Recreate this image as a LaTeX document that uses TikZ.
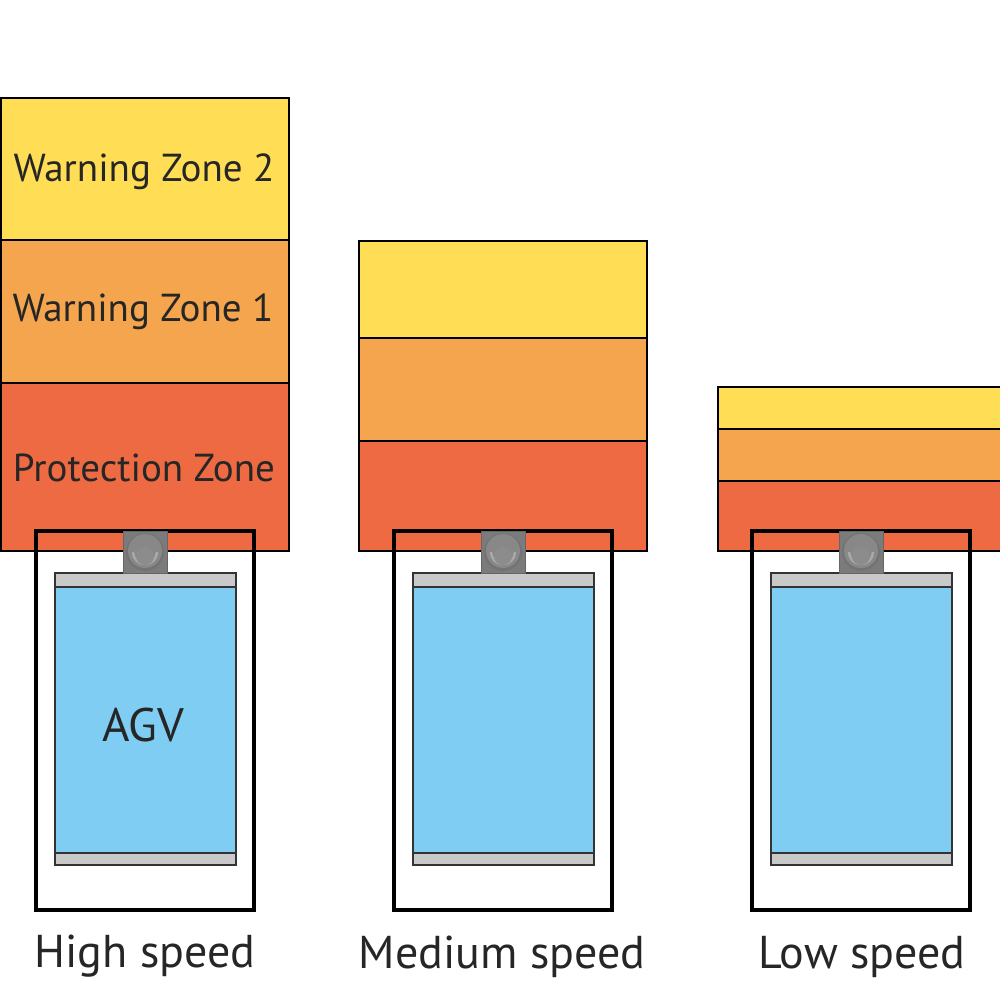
\documentclass[tikz,border=0pt]{standalone}
\usepackage{fontspec}
\setmainfont{PT Sans}
\definecolor{zyellow}{HTML}{FFDD55}
\definecolor{zorange}{HTML}{F5A54E}
\definecolor{zred}{HTML}{EE6A43}
\definecolor{agvblue}{HTML}{7FCDF3}
\definecolor{stripgray}{HTML}{C9C9C9}
\definecolor{sensgray}{HTML}{7B7B7B}
\definecolor{sensring}{HTML}{A9A9A9}
\begin{document}
\begin{tikzpicture}[x=1pt,y=-1pt,
  zoneband/.style={draw=black,line width=1.8pt},
  frame/.style={draw=black,line width=3.2pt},
  bodyline/.style={draw=black!80,line width=1.5pt},
  zonelabel/.style={font=\fontsize{39}{44}\selectfont,text=black!85,inner sep=0pt},
  speedlabel/.style={font=\fontsize{46}{52}\selectfont,text=black!85,inner sep=0pt},
  agvlabel/.style={font=\fontsize{47}{52}\selectfont,text=black!85,inner sep=0pt}]
\useasboundingbox (0,0) rectangle (1000,1000);
\clip (0,0) rectangle (1000,1000);
\fill[white] (0,0) rectangle (1000,1000);

% AGV unit macro: #1 = x offset, #2 = name suffix
\newcommand\agvunit[2]{%
  \begin{scope}[xshift=#1pt]
    \draw[frame] (36,531) rectangle (254,910);
    \draw[bodyline,fill=stripgray] (55,573) rectangle (236,865);
    \fill[agvblue] (55,587) rectangle (236,853);
    \draw[bodyline] (55,587) -- (236,587);
    \draw[bodyline] (55,853) -- (236,853);
    \draw[bodyline] (55,573) rectangle (236,865);
    \fill[sensgray] (123,531) rectangle (167,573);
    \draw[black!60,line width=0.8pt] (123,531) rectangle (167,573);
    \fill[black!55] (145,552) circle (19);
    \fill[sensgray!90] (145,551) circle (17);
    \draw[sensring,line width=2.5pt] (133,552) arc[start angle=180,end angle=0,radius=12];
    \fill[black!45] (145,556) circle (9);
    \coordinate (agv#2) at (145,720);
  \end{scope}}

% High speed zones
\draw[zoneband,fill=zyellow] (1,98) rectangle (289,240);
\draw[zoneband,fill=zorange] (1,240) rectangle (289,383);
\draw[zoneband,fill=zred] (1,383) rectangle (289,551);
\node[zonelabel] (wz2) at (144,172) {Warning Zone 2};
\node[zonelabel] (wz1) at (143,312) {Warning Zone 1};
\node[zonelabel] (pz) at (144,468) {Protection Zone};

% Medium speed zones
\draw[zoneband,fill=zyellow] (359,241) rectangle (647,338);
\draw[zoneband,fill=zorange] (359,338) rectangle (647,441);
\draw[zoneband,fill=zred] (359,441) rectangle (647,551);

% Low speed zones
\draw[zoneband,fill=zyellow] (718,387) rectangle (1010,429);
\draw[zoneband,fill=zorange] (718,429) rectangle (1010,481);
\draw[zoneband,fill=zred] (718,481) rectangle (1010,551);

\agvunit{0}{h}
\agvunit{358}{m}
\agvunit{716}{l}

\node[agvlabel] (agvtext) at (143,725) {AGV};

\node[speedlabel,anchor=base] (hs) at (145,967) {High speed};
\node[speedlabel,anchor=base] (ms) at (502,968) {Medium speed};
\node[speedlabel,anchor=base] (ls) at (862,968) {Low speed};
\end{tikzpicture}
\end{document}
